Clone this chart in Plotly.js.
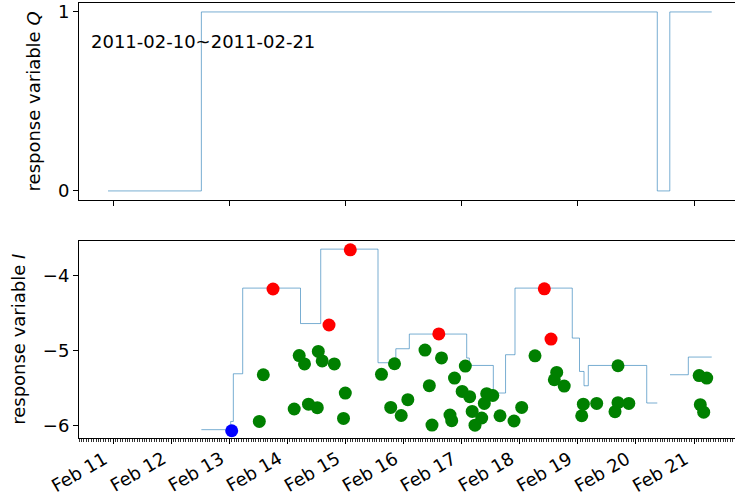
<!DOCTYPE html>
<html>
<head>
<meta charset="utf-8">
<script src="https://cdn.plot.ly/plotly-3.0.1.min.js"></script>
<style>
  html, body { margin: 0; padding: 0; background: #fff; overflow: hidden; }
  #chart { width: 735px; height: 501px; }
</style>
</head>
<body>
<div id="chart"></div>
<script>
// Response Q: on/off state, step changes (value holds until next time)
const qTimes  = ['2011-02-10 21:56', '2011-02-12 12:30', '2011-02-20 08:50', '2011-02-20 14:00', '2011-02-21 07:19'];
const qValues = [0, 1, 0, 1, 1];

// Response I: step level (null breaks the line while Q is off)
const iTimes = [
  '2011-02-12 12:30', '2011-02-13 00:37', '2011-02-13 01:42', '2011-02-13 05:34',
  '2011-02-14 05:27', '2011-02-14 13:48', '2011-02-15 13:28', '2011-02-15 20:50',
  '2011-02-16 02:24', '2011-02-17 02:06', '2011-02-17 03:11', '2011-02-17 13:06',
  '2011-02-17 18:09', '2011-02-17 22:03', '2011-02-18 21:43', '2011-02-19 00:42',
  '2011-02-19 02:34', '2011-02-19 04:20', '2011-02-20 04:28', '2011-02-20 08:50',
  '2011-02-20 11:00',
  '2011-02-20 14:05', '2011-02-20 21:39', '2011-02-21 07:19'
];
const iValues = [
  -6.057, -5.947, -5.311, -4.168,
  -4.641, -3.648, -5.164, -4.977,
  -4.781, -5.101, -5.200, -5.568,
  -5.057, -4.168, -4.835, -5.280,
  -5.471, -5.200, -5.701, -5.701,
  null,
  -5.324, -5.088, -5.088
];

// Individual observations of I, grouped by class
const greenTimes = [
  '2011-02-13 14:05', '2011-02-13 12:26', '2011-02-14 04:55', '2011-02-14 07:06',
  '2011-02-14 02:51', '2011-02-14 08:45', '2011-02-14 12:23', '2011-02-14 12:48',
  '2011-02-14 14:25', '2011-02-14 19:25', '2011-02-14 23:57', '2011-02-14 23:13',
  '2011-02-15 14:54', '2011-02-15 20:17', '2011-02-15 18:43', '2011-02-15 23:03',
  '2011-02-16 01:47', '2011-02-16 08:53', '2011-02-16 15:42', '2011-02-16 10:40',
  '2011-02-16 11:46', '2011-02-16 21:04', '2011-02-17 01:32', '2011-02-16 19:12',
  '2011-02-16 19:55', '2011-02-17 00:14', '2011-02-17 03:20', '2011-02-17 04:22',
  '2011-02-17 05:32', '2011-02-17 08:18', '2011-02-17 09:23', '2011-02-17 10:22',
  '2011-02-17 12:53', '2011-02-17 15:52', '2011-02-17 21:39', '2011-02-18 00:49',
  '2011-02-18 06:19', '2011-02-18 15:17', '2011-02-18 14:18', '2011-02-18 18:23',
  '2011-02-19 02:17', '2011-02-19 01:37', '2011-02-19 07:48', '2011-02-19 16:36',
  '2011-02-19 16:36', '2011-02-19 15:22', '2011-02-19 21:04', '2011-02-21 02:08',
  '2011-02-21 05:15', '2011-02-21 02:36', '2011-02-21 04:00'
];
const greenValues = [
  -5.324, -5.947, -5.068, -5.180,
  -5.781, -5.717, -5.764, -5.013,
  -5.140, -5.180, -5.568, -5.907,
  -5.319, -5.177, -5.760, -5.868,
  -5.657, -4.995, -5.100, -5.470,
  -5.995, -5.368, -5.208, -5.861,
  -5.937, -5.547, -5.617, -5.813,
  -5.997, -5.901, -5.707, -5.577,
  -5.601, -5.871, -5.941, -5.760,
  -5.071, -5.293, -5.391, -5.475,
  -5.717, -5.871, -5.707, -5.204,
  -5.697, -5.817, -5.707, -5.335,
  -5.368, -5.724, -5.824
];
const redTimes  = ['2011-02-13 18:06', '2011-02-14 17:14', '2011-02-15 02:01', '2011-02-16 14:35', '2011-02-18 10:10', '2011-02-18 12:56'];
const redValues = [-4.180, -4.660, -3.657, -4.780, -4.177, -4.848];
const blueTimes  = ['2011-02-13 01:02'];
const blueValues = [-6.071];

// Daily date ticks on the shared time axis
const tickDates  = ['2011-02-11', '2011-02-12', '2011-02-13', '2011-02-14', '2011-02-15', '2011-02-16',
                    '2011-02-17', '2011-02-18', '2011-02-19', '2011-02-20', '2011-02-21'];
const tickLabels = ['Feb 11', 'Feb 12', 'Feb 13', 'Feb 14', 'Feb 15', 'Feb 16',
                    'Feb 17', 'Feb 18', 'Feb 19', 'Feb 20', 'Feb 21'];

const periodLabel = '2011-02-10~2011-02-21';
const qLabel = 'response variable <i>Q</i>';
const iLabel = 'response variable <i>I</i>';

const FONT = 'DejaVu Sans, sans-serif';
const LINE = '#1f77b4';
const xRange = ['2011-02-10 09:57', '2011-02-21 16:56'];

const traces = [
  { x: qTimes, y: qValues, type: 'scatter', mode: 'lines', xaxis: 'x', yaxis: 'y',
    line: { shape: 'hv', color: LINE, width: 0.6 } },
  { x: iTimes, y: iValues, type: 'scatter', mode: 'lines', xaxis: 'x2', yaxis: 'y2',
    connectgaps: false, line: { shape: 'hv', color: LINE, width: 0.6 } },
  { x: greenTimes, y: greenValues, type: 'scatter', mode: 'markers', xaxis: 'x2', yaxis: 'y2',
    marker: { color: '#008000', size: 13 } },
  { x: redTimes, y: redValues, type: 'scatter', mode: 'markers', xaxis: 'x2', yaxis: 'y2',
    marker: { color: '#ff0000', size: 13 } },
  { x: blueTimes, y: blueValues, type: 'scatter', mode: 'markers', xaxis: 'x2', yaxis: 'y2',
    marker: { color: '#0000ff', size: 13 } }
];

const axisCommon = {
  showline: true, linecolor: '#000', linewidth: 1,
  ticks: 'outside', ticklen: 5, tickwidth: 1, tickcolor: '#000',
  showgrid: false, zeroline: false,
  tickfont: { family: FONT, size: 18, color: '#000' }
};

// Rotated date labels, right/top anchored on their rotated box below each tick
const dateLabels = tickDates.map((d, i) => ({
  text: tickLabels[i], x: d, xref: 'x2', y: -0.019, yref: 'paper',
  xanchor: 'right', yanchor: 'top', textangle: -30, showarrow: false,
  borderpad: 0, font: { family: FONT, size: 18, color: '#000' }
}));

const layout = {
  width: 735, height: 501,
  margin: { l: 79, r: 0, t: 3, b: 62.7 },
  paper_bgcolor: '#fff', plot_bgcolor: '#fff',
  showlegend: false,
  font: { family: FONT, size: 18, color: '#000' },
  xaxis: Object.assign({}, axisCommon, {
    type: 'date', range: xRange, anchor: 'y', mirror: true,
    tick0: '2011-02-11', dtick: 2 * 86400000, showticklabels: false
  }),
  yaxis: Object.assign({}, axisCommon, {
    domain: [0.5474, 1], range: [-0.05, 1.05], anchor: 'x',
    tickvals: [0, 1],
    title: { text: qLabel, standoff: 12, font: { family: FONT, size: 18, color: '#000' } }
  }),
  xaxis2: Object.assign({}, axisCommon, {
    type: 'date', range: xRange, anchor: 'y2', mirror: true,
    tickvals: tickDates, showticklabels: false,
    minor: { dtick: 3600000, ticks: 'outside', ticklen: 2.5, tickwidth: 0.8, tickcolor: '#000', showgrid: false }
  }),
  yaxis2: Object.assign({}, axisCommon, {
    domain: [0, 0.454], range: [-6.168, -3.533], anchor: 'x2',
    tickvals: [-6, -5, -4],
    title: { text: iLabel, standoff: 12, font: { family: FONT, size: 18, color: '#000' } }
  }),
  annotations: [{
    text: periodLabel, xref: 'paper', yref: 'paper',
    x: 0.0155, y: 0.912, xanchor: 'left', yanchor: 'middle', showarrow: false,
    font: { family: FONT, size: 18, color: '#000' }
  }].concat(dateLabels)
};

Plotly.newPlot('chart', traces, layout, { staticPlot: true, displayModeBar: false });
</script>
</body>
</html>
